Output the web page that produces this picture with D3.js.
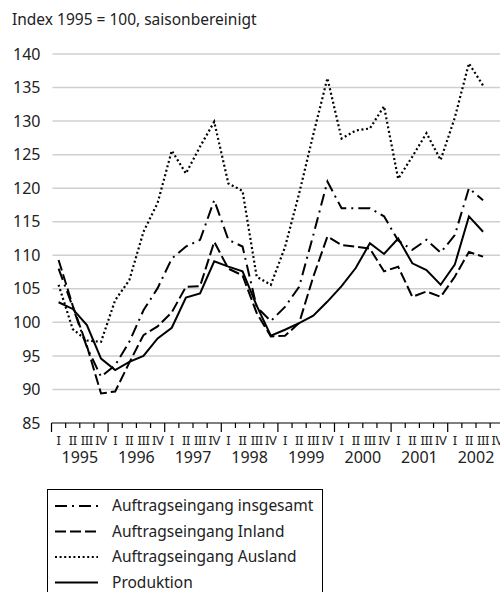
<!DOCTYPE html>
<html>
<head>
<meta charset="utf-8">
<script src="https://cdn.jsdelivr.net/npm/d3@7"></script>
<style>
  body { margin: 0; background: #fff; }
  svg { display: block; font-family: "Noto Sans", sans-serif; }
</style>
</head>
<body>
<div id="chart"></div>
<script>
const WIDTH = 500;
const HEIGHT = 592;

// Daten: Quartale 1995 I bis 2002 III
const YEARS = [1995, 1996, 1997, 1998, 1999, 2000, 2001, 2002];
const QUARTERS = ["I", "II", "III", "IV"];
const Y_TICKS = [85, 90, 95, 100, 105, 110, 115, 120, 125, 130, 135, 140];

const insgesamt = [108.0, 102.3, 96.3, 91.9, 93.6, 97.1, 101.8, 105.1, 109.5, 111.3, 112.3, 118.2, 112.3, 111.3, 102.3, 100.2,
                   102.3, 105.3, 113.0, 121.0, 117.0, 117.0, 117.0, 115.8, 112.2, 110.8, 112.3, 110.4, 113.0, 120.0, 118.2];
const inland = [109.3, 102.5, 96.5, 89.4, 89.7, 94.0, 98.1, 99.4, 101.5, 105.3, 105.4, 112.0, 108.0, 107.0, 101.4, 97.9,
                98.0, 99.9, 106.8, 112.8, 111.5, 111.3, 111.0, 107.6, 108.3, 103.8, 104.6, 103.8, 106.8, 110.5, 109.8];
const ausland = [105.6, 99.0, 97.3, 97.1, 103.3, 106.3, 113.5, 117.8, 125.6, 122.2, 126.2, 129.9, 120.7, 119.6, 106.8, 105.6,
                 111.2, 119.2, 128.0, 136.4, 127.4, 128.6, 128.9, 132.2, 121.4, 124.7, 128.2, 124.2, 130.5, 138.6, 135.3];
const produktion = [103.0, 102.0, 99.6, 94.6, 92.9, 94.1, 95.0, 97.6, 99.2, 103.7, 104.3, 109.1, 108.3, 107.6, 102.5, 98.0,
                    98.9, 99.9, 101.0, 103.1, 105.4, 108.1, 111.8, 110.2, 112.5, 108.8, 107.8, 105.6, 108.6, 115.8, 113.5];

const SERIES = [
    { name: "Auftragseingang insgesamt", values: insgesamt, dash: "12,5,2,5" },
    { name: "Auftragseingang Inland", values: inland, dash: "11,4" },
    { name: "Auftragseingang Ausland", values: ausland, dash: "2,2.6" },
    { name: "Produktion", values: produktion, dash: null }
];

const margin = { top: 54, left: 51.5, bottom: 423 };

const svg = d3.select("#chart").append("svg")
    .attr("width", WIDTH)
    .attr("height", HEIGHT);

// Skalen
const x = d3.scaleLinear()
    .domain([0, YEARS.length * 4])
    .range([margin.left, 504.3]);

const y = d3.scaleLinear()
    .domain([85, 140])
    .range([margin.bottom, margin.top]);

// Titel
svg.append("text")
    .attr("x", 12)
    .attr("y", 25)
    .style("font-size", "15.5px")
    .attr("fill", "#222")
    .text("Index 1995 = 100, saisonbereinigt");

// Gitterlinien
svg.append("g")
    .selectAll("line")
    .data(Y_TICKS.filter(d => d > 85))
    .enter().append("line")
    .attr("x1", margin.left + 1)
    .attr("x2", WIDTH)
    .attr("y1", d => y(d))
    .attr("y2", d => y(d))
    .attr("stroke", "#cfcfcf")
    .attr("stroke-width", 1.5);

// Y-Achse
const yAxis = svg.append("g")
    .attr("transform", `translate(${margin.left},0)`)
    .call(d3.axisLeft(y).tickValues(Y_TICKS).tickSize(0).tickPadding(11));
yAxis.select(".domain").remove();
yAxis.selectAll("text")
    .style("font-size", "16px")
    .style("font-family", "'Noto Sans', sans-serif")
    .attr("fill", "#222");

// X-Achse
const xAxis = svg.append("g");
xAxis.append("line")
    .attr("x1", x(0))
    .attr("x2", x(YEARS.length * 4))
    .attr("y1", y(85))
    .attr("y2", y(85))
    .attr("stroke", "#000")
    .attr("stroke-width", 1.2);

xAxis.selectAll(".qtick")
    .data(d3.range(YEARS.length * 4 + 1))
    .enter().append("line")
    .attr("class", "qtick")
    .attr("x1", d => x(d))
    .attr("x2", d => x(d))
    .attr("y1", y(85))
    .attr("y2", d => y(85) + (d % 4 === 0 ? 9 : 5))
    .attr("stroke", "#000")
    .attr("stroke-width", 1.2);

// Quartalsbeschriftung (eng gesetzt wie im Original)
xAxis.selectAll(".qlabel")
    .data(d3.range(YEARS.length * 4))
    .enter().append("text")
    .attr("class", "qlabel")
    .attr("x", d => x(d + 0.5))
    .attr("y", 445)
    .attr("text-anchor", "middle")
    .style("font-size", "13px")
    .style("letter-spacing", "-0.4px")
    .attr("fill", "#222")
    .text(d => QUARTERS[d % 4]);

xAxis.selectAll(".ylabel")
    .data(YEARS)
    .enter().append("text")
    .attr("class", "ylabel")
    .attr("x", (d, i) => x(i * 4 + 2))
    .attr("y", 463)
    .attr("text-anchor", "middle")
    .style("font-size", "16px")
    .attr("fill", "#222")
    .text(d => d);

// Linien
const line = d3.line()
    .x((d, i) => x(i + 0.5))
    .y(d => y(d));

svg.append("g")
    .selectAll("path")
    .data(SERIES)
    .enter().append("path")
    .attr("d", d => line(d.values))
    .attr("fill", "none")
    .attr("stroke", "#000")
    .attr("stroke-width", d => d.dash === "2,2.6" ? 2.2 : 2)
    .attr("stroke-dasharray", d => d.dash);

// Legende
const legend = svg.append("g");
legend.append("rect")
    .attr("x", 47.5)
    .attr("y", 489.5)
    .attr("width", 275)
    .attr("height", 120)
    .attr("fill", "#fff")
    .attr("stroke", "#000")
    .attr("stroke-width", 1);

const rows = legend.selectAll(".row")
    .data(SERIES)
    .enter().append("g")
    .attr("class", "row")
    .attr("transform", (d, i) => `translate(0,${506 + i * 25.5})`);

rows.append("line")
    .attr("x1", 55)
    .attr("x2", 98)
    .attr("stroke", "#000")
    .attr("stroke-width", 2)
    .attr("stroke-dasharray", d => d.dash);

rows.append("text")
    .attr("x", 112)
    .attr("dy", "0.35em")
    .style("font-size", "15.5px")
    .attr("fill", "#222")
    .text(d => d.name);
</script>
</body>
</html>
